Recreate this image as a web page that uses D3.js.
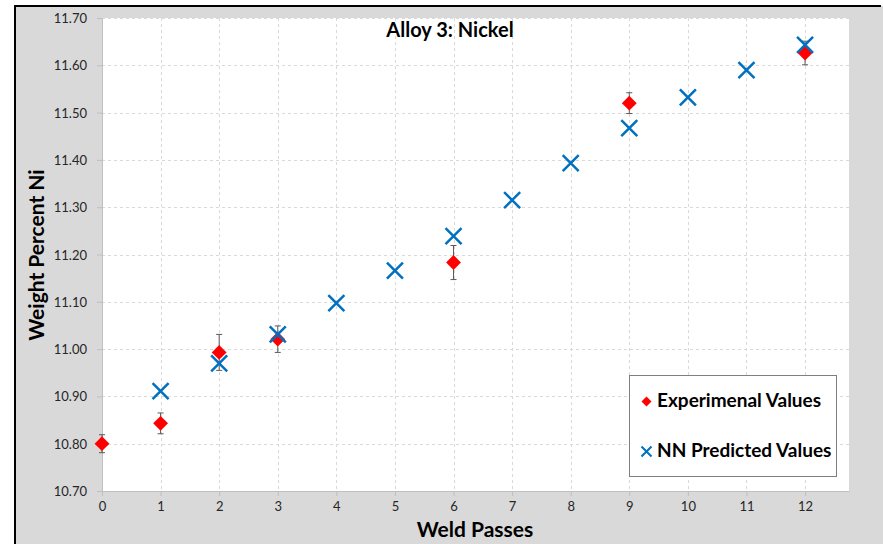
<!DOCTYPE html>
<html>
<head>
<meta charset="utf-8">
<script src="https://cdn.jsdelivr.net/npm/d3@7"></script>
<style>
  html, body { margin: 0; padding: 0; background: #ffffff; }
  svg { display: block; font-family: Lato, "Open Sans", sans-serif; }
</style>
</head>
<body>
<svg id="chart" width="883" height="544"></svg>
<script>
// Weld passes measured in the lab, with weight percent Ni and error
const expPasses = [0, 1, 2, 3, 6, 9, 12];
const expValues = [10.800, 10.843, 10.993, 11.021, 11.183, 11.520, 11.626];
const expErrors = [0.019, 0.022, 0.038, 0.028, 0.036, 0.022, 0.025];

// Neural network predictions for passes 1..12
const nnPasses = [1, 2, 3, 4, 5, 6, 7, 8, 9, 10, 11, 12];
const nnValues = [10.911, 10.970, 11.031, 11.097, 11.166, 11.239, 11.315, 11.393, 11.467, 11.532, 11.590, 11.643];

const xTicks = [0, 1, 2, 3, 4, 5, 6, 7, 8, 9, 10, 11, 12];
const yTicks = [10.7, 10.8, 10.9, 11.0, 11.1, 11.2, 11.3, 11.4, 11.5, 11.6, 11.7];

const chartTitle = "Alloy 3: Nickel";
const xTitle = "Weld Passes";
const yTitle = "Weight Percent Ni";
const legendLabels = ["Experimenal Values", "NN Predicted Values"];

const svg = d3.select("#chart");
const plot = { left: 102, right: 849, top: 18, bottom: 491 };

const x = d3.scaleLinear().domain([0, 12.75]).range([plot.left, plot.right]);
const y = d3.scaleLinear().domain([10.7, 11.7]).range([plot.bottom, plot.top]);

// chart area: grey panel with dark frame along top and left
svg.append("rect").attr("x", 15).attr("y", 6).attr("width", 868).attr("height", 538).attr("fill", "#d9d9d9");
svg.append("line").attr("x1", 14).attr("x2", 881).attr("y1", 6).attr("y2", 6).attr("stroke", "#000").attr("stroke-width", 2);
svg.append("line").attr("x1", 15).attr("x2", 15).attr("y1", 5).attr("y2", 544).attr("stroke", "#000").attr("stroke-width", 2);

// plot area
svg.append("rect")
  .attr("x", plot.left).attr("y", plot.top)
  .attr("width", plot.right - plot.left).attr("height", plot.bottom - plot.top)
  .attr("fill", "#ffffff");

// dashed gridlines
const grid = svg.append("g").attr("stroke", "#d9d9d9").attr("stroke-width", 1).attr("stroke-dasharray", "3,3");
grid.selectAll("line.h").data(yTicks.slice(1)).join("line")
  .attr("x1", plot.left).attr("x2", plot.right)
  .attr("y1", d => Math.round(y(d)) + 0.5).attr("y2", d => Math.round(y(d)) + 0.5);
grid.selectAll("line.v").data(xTicks.slice(1)).join("line")
  .attr("y1", plot.top).attr("y2", plot.bottom)
  .attr("x1", d => Math.round(x(d)) + 0.5).attr("x2", d => Math.round(x(d)) + 0.5);

// axes
const xAxis = d3.axisBottom(x).tickValues(xTicks).tickFormat(d3.format("d")).tickSizeInner(5).tickSizeOuter(0).tickPadding(6);
const yAxis = d3.axisLeft(y).tickValues(yTicks).tickFormat(d3.format(".2f")).tickSizeInner(5).tickSizeOuter(0).tickPadding(10);

const gx = svg.append("g").attr("transform", `translate(0,${plot.bottom})`).call(xAxis);
const gy = svg.append("g").attr("transform", `translate(${plot.left},0)`).call(yAxis);
[gx, gy].forEach(g => {
  g.select(".domain").attr("stroke", "#bfbfbf");
  g.selectAll(".tick line").attr("stroke", "#bfbfbf");
  g.selectAll(".tick text").attr("fill", "#262626").style("font-size", "13px").style("font-family", "Lato, sans-serif");
});
gy.selectAll(".tick text").attr("dy", "0.35em");

// error bars on experimental values
const errG = svg.append("g").attr("stroke", "#595959").attr("stroke-width", 1);
expPasses.forEach((p, i) => {
  const cx = x(p), top = y(expValues[i] + expErrors[i]), bot = y(expValues[i] - expErrors[i]);
  errG.append("line").attr("x1", cx).attr("x2", cx).attr("y1", top).attr("y2", bot);
  errG.append("line").attr("x1", cx - 3).attr("x2", cx + 3).attr("y1", top).attr("y2", top);
  errG.append("line").attr("x1", cx - 3).attr("x2", cx + 3).attr("y1", bot).attr("y2", bot);
});

// experimental values: red diamonds
const diamond = d3.symbol().type(d3.symbolSquare).size(110);
svg.append("g").selectAll("path").data(expPasses.map((p, i) => [p, expValues[i]])).join("path")
  .attr("d", diamond)
  .attr("transform", d => `translate(${x(d[0])},${y(d[1])}) rotate(45)`)
  .attr("fill", "#ff0000");

// predicted values: blue crosses
const cross = d3.symbol().type(d3.symbolTimes).size(169);
svg.append("g").selectAll("path").data(nnPasses.map((p, i) => [p, nnValues[i]])).join("path")
  .attr("d", cross)
  .attr("transform", d => `translate(${x(d[0])},${y(d[1])})`)
  .attr("fill", "none").attr("stroke", "#0070c0").attr("stroke-width", 2.5);

// titles
svg.append("text").attr("x", 450).attr("y", 37).attr("text-anchor", "middle")
  .style("font-size", "20px").style("font-weight", "bold").attr("fill", "#000").text(chartTitle);
svg.append("text").attr("x", 475).attr("y", 537).attr("text-anchor", "middle")
  .style("font-size", "21px").style("font-weight", "bold").attr("fill", "#000").text(xTitle);
svg.append("text").attr("transform", "translate(44,255) rotate(-90)").attr("text-anchor", "middle")
  .style("font-size", "21px").style("font-weight", "bold").attr("fill", "#000").text(yTitle);

// legend
const lg = svg.append("g");
lg.append("rect").attr("x", 629.5).attr("y", 375.5).attr("width", 207).attr("height", 101)
  .attr("fill", "#ffffff").attr("stroke", "#7f7f7f").attr("stroke-width", 1);
lg.append("path").attr("d", d3.symbol().type(d3.symbolSquare).size(50))
  .attr("transform", "translate(646.5,401.5) rotate(45)").attr("fill", "#ff0000");
lg.append("path").attr("d", d3.symbol().type(d3.symbolTimes).size(67))
  .attr("transform", "translate(646.5,451.5)").attr("fill", "none").attr("stroke", "#0070c0").attr("stroke-width", 2);
lg.selectAll("text").data(legendLabels).join("text")
  .attr("x", 657).attr("y", (d, i) => 407 + i * 50)
  .style("font-size", "19px").style("font-weight", "bold").attr("fill", "#000").text(d => d);
</script>
</body>
</html>
